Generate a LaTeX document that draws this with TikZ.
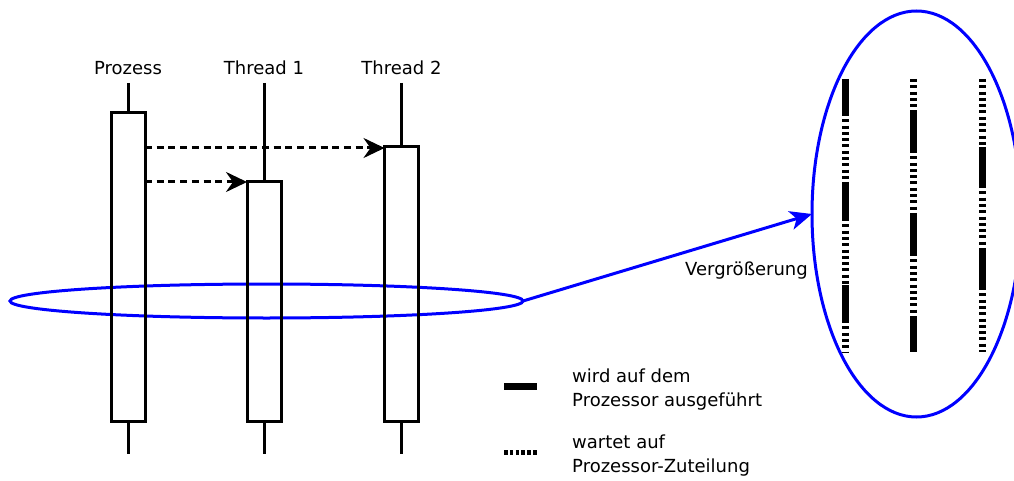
\documentclass[tikz,border=0pt]{standalone}
\usepackage{fontspec}
\setmainfont{DejaVu Sans}
\usetikzlibrary{arrows.meta,shapes.geometric,calc}
\begin{document}
\begin{tikzpicture}[x=1pt,y=-1pt,
 lbl/.style={font=\fontsize{18}{22}\selectfont, inner sep=0pt},
 lifebox/.style={draw, line width=3pt, minimum width=34pt, inner sep=0pt, outer sep=0pt, anchor=north},
 life/.style={line width=3pt},
 call/.style={line width=3pt, dash pattern=on 7pt off 4.7pt, -{Stealth[length=21pt,width=20pt,inset=7pt]}},
 lens/.style={draw=blue, line width=3pt, ellipse, inner sep=0pt, outer sep=0pt},
 zoomarrow/.style={draw=blue, line width=3pt, -{Stealth[length=22pt,width=19pt,inset=6pt]}},
 run/.style={line width=7pt},
 wait/.style={line width=7pt, dash pattern=on 3pt off 3.3pt},
]
\useasboundingbox (0,0) rectangle (1014,481);
\clip (0,0) rectangle (1014,481);

% lens ellipses (drawn first, below the lifelines)
\node[lens, minimum width=513pt, minimum height=34pt] (lensS) at (266.5,301) {};
\node[lens, minimum width=209pt, minimum height=406pt] (lensB) at (916.5,214) {};
\draw[zoomarrow] (lensS.east) -- (lensB.west);
\node[lbl, anchor=base east] (vg) at (808,275) {Vergrößerung};

% labels
\node[lbl, anchor=base] (lp) at (128,75) {Prozess};
\node[lbl, anchor=base] (l1) at (264,75) {Thread 1};
\node[lbl, anchor=base] (l2) at (401.5,75) {Thread 2};

% lifeline tops and bottoms
\coordinate (tp) at (128,83);
\coordinate (t1) at (264,83);
\coordinate (t2) at (401.5,83);
\coordinate (bp) at (128,454);
\coordinate (b1) at (264,454);
\coordinate (b2) at (401.5,454);

% activation boxes
\node[lifebox, minimum height=308pt] (P) at (128,113) {};
\node[lifebox, minimum height=239pt] (T1) at (264,182) {};
\node[lifebox, minimum height=274pt] (T2) at (401.5,147) {};

\draw[life] (tp) -- (P.north);
\draw[life] (t1) -- (T1.north);
\draw[life] (t2) -- (T2.north);
\draw[life] (P.south) -- (bp);
\draw[life] (T1.south) -- (b1);
\draw[life] (T2.south) -- (b2);

% thread creation calls
\draw[call] ($(P.east |- T2.north)+(0,1)$) -- ($(T2.north west)+(0,1)$);
\draw[call] (P.east |- T1.north) -- (T1.north west);

% magnified bars
\draw[run]  (845.5,79) -- (845.5,113);
\draw[wait] (845.5,113) -- (845.5,182);
\draw[run]  (845.5,182) -- (845.5,218);
\draw[wait] (845.5,218) -- (845.5,285);
\draw[run]  (845.5,285) -- (845.5,320);
\draw[wait] (845.5,320) -- (845.5,352);

\draw[wait] (913.5,79) -- (913.5,112);
\draw[run]  (913.5,112) -- (913.5,150);
\draw[wait] (913.5,150) -- (913.5,215);
\draw[run]  (913.5,215) -- (913.5,253);
\draw[wait] (913.5,253) -- (913.5,318);
\draw[run]  (913.5,318) -- (913.5,352);

\draw[wait] (982,79) -- (982,147);
\draw[run]  (982,147) -- (982,185);
\draw[wait] (982,185) -- (982,250);
\draw[run]  (982,250) -- (982,287);
\draw[wait] (982,287) -- (982,352);

% legend
\draw[run] (504,386.5) -- (537,386.5);
\draw[line width=5pt, dash pattern=on 3.5pt off 2.3pt] (504,452) -- (538,452);
\node[lbl, anchor=base west] (g1) at (572,382) {wird auf dem};
\node[lbl, anchor=base west] (g2) at (572,406) {Prozessor ausgeführt};
\node[lbl, anchor=base west] (g3) at (572,448) {wartet auf};
\node[lbl, anchor=base west] (g4) at (572,472) {Prozessor-Zuteilung};
\end{tikzpicture}
\end{document}
